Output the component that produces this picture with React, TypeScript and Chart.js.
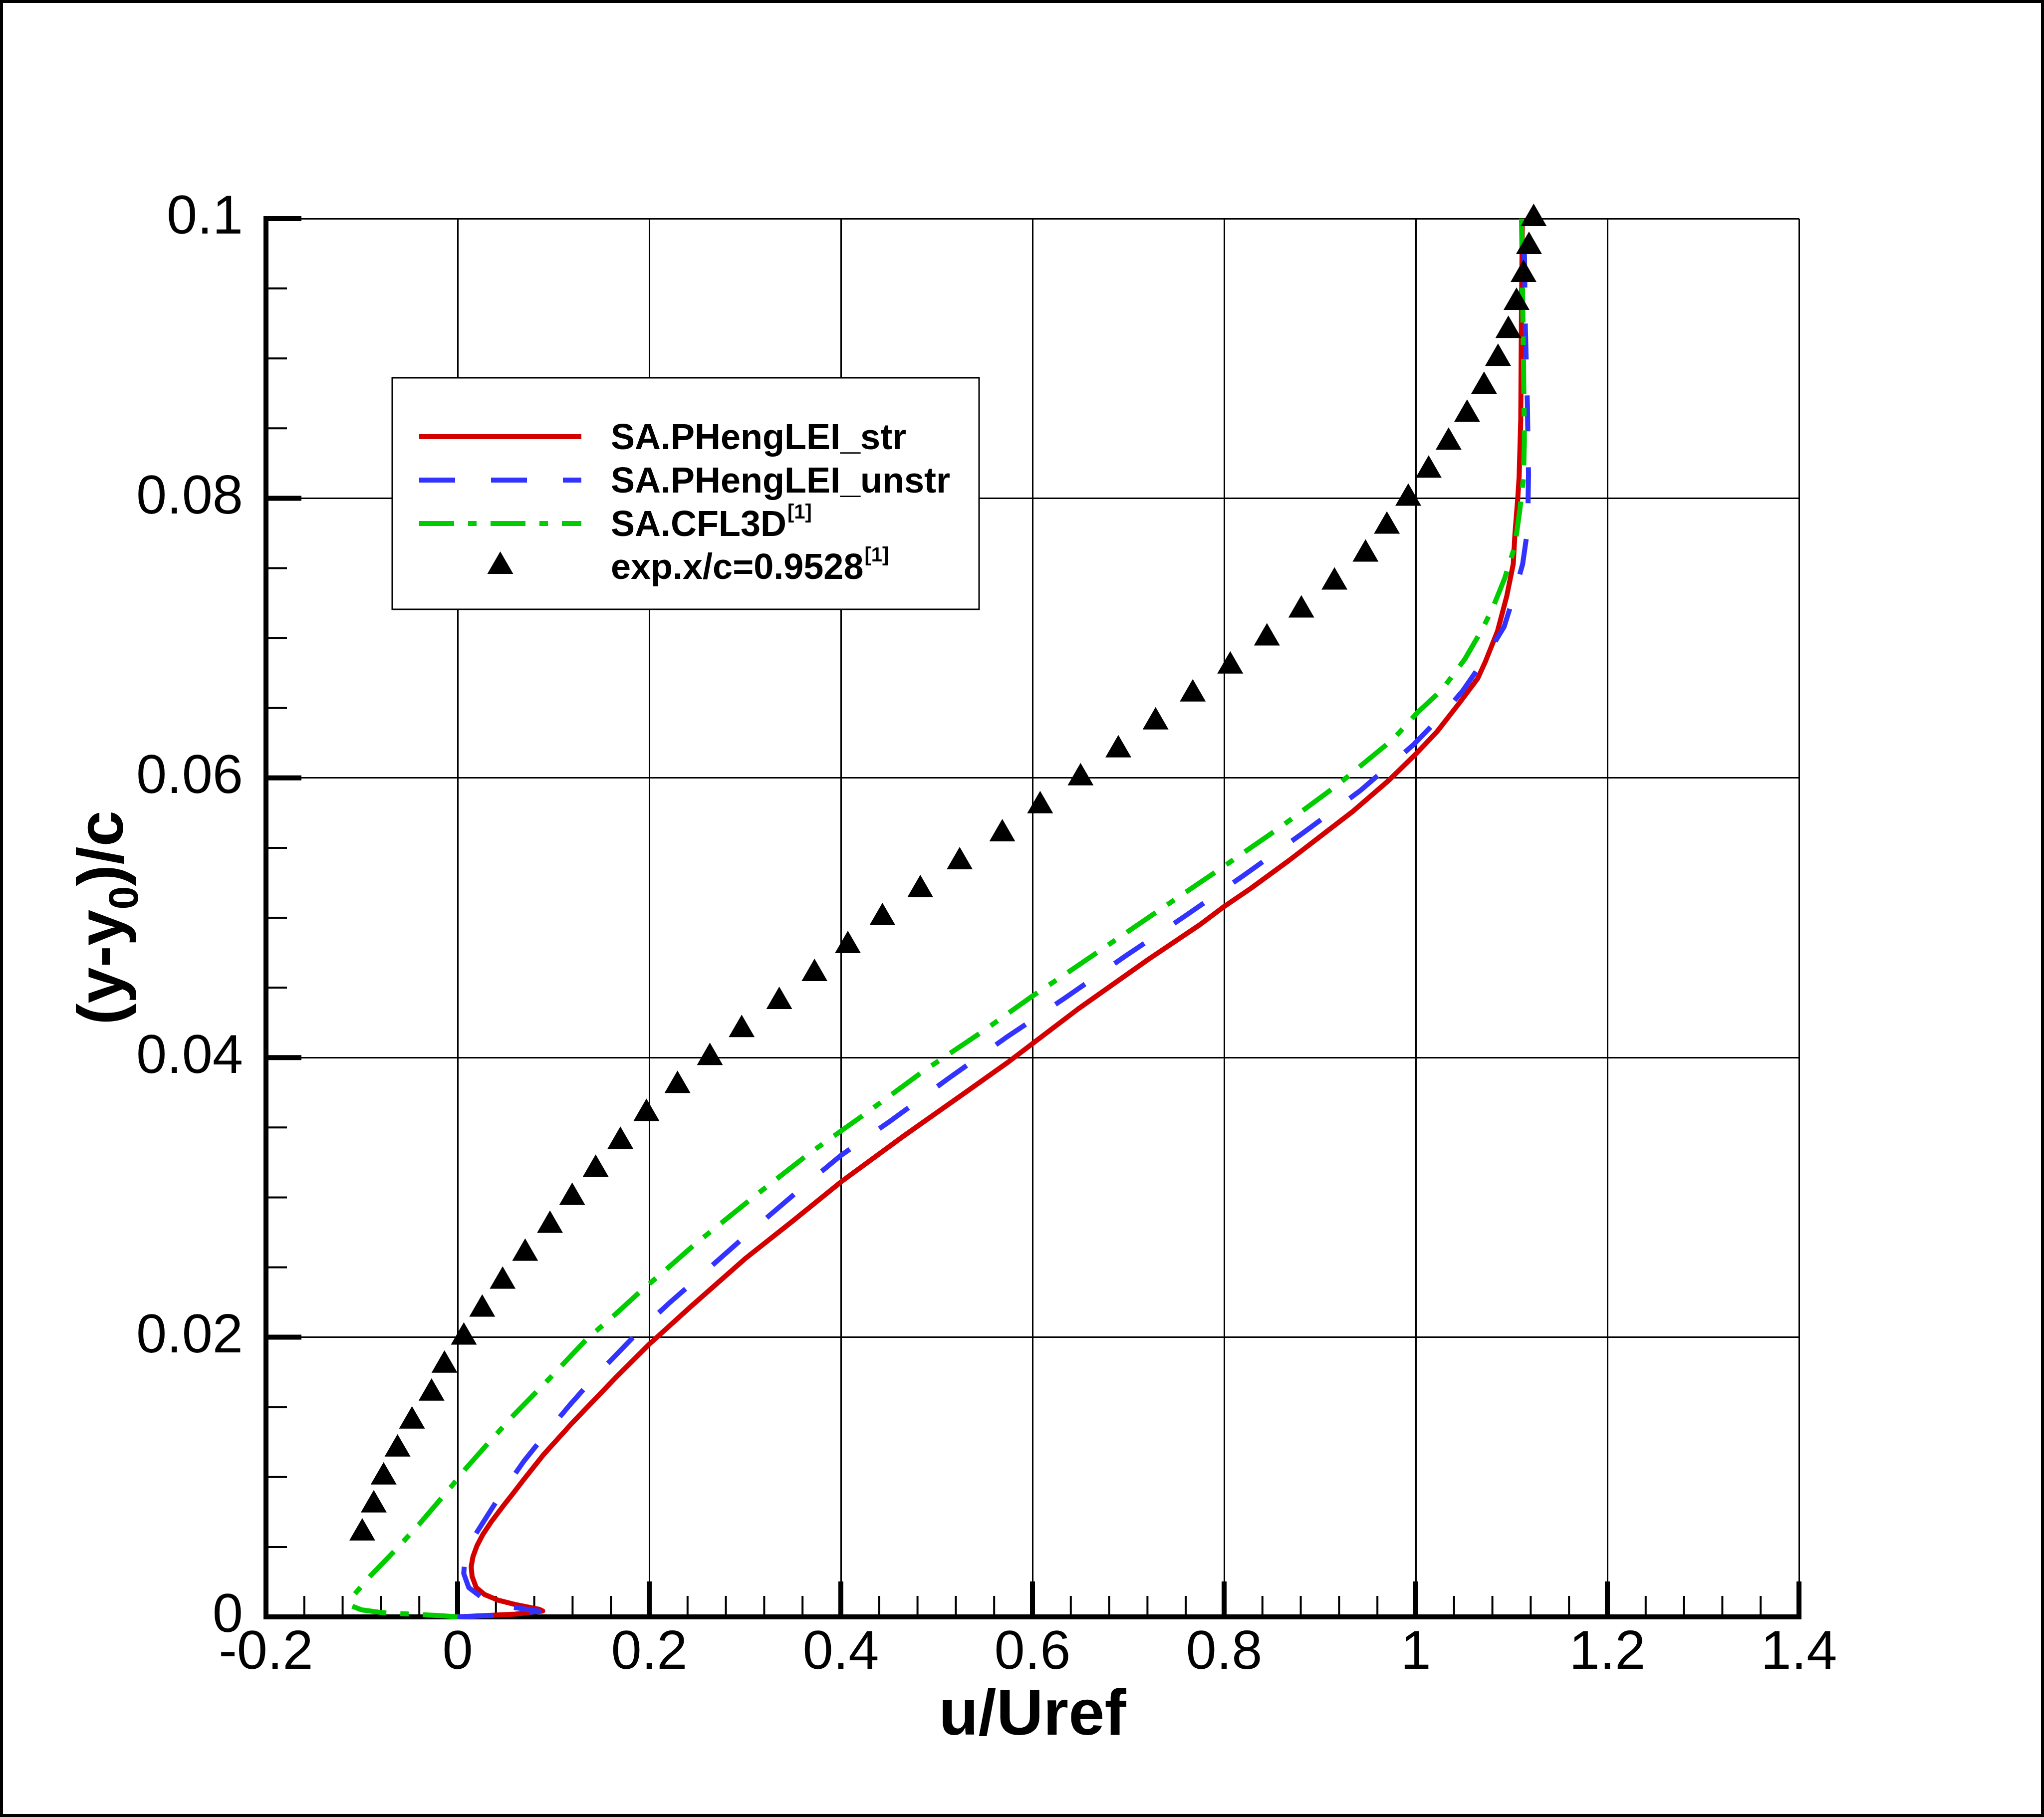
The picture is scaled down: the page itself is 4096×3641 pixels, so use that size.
import React, { useEffect, useRef } from 'react';
import { Chart, registerables } from 'chart.js';

Chart.register(...registerables);

// ---------------------------------------------------------------------------
// Velocity profiles u/Uref versus (y - y0)/c
// ---------------------------------------------------------------------------

// SA.PHengLEI_str (structured grid)
const STR_U = [0, 0.03, 0.06, 0.0889, 0.0854, 0.0594, 0.042, 0.0281, 0.0194, 0.0151, 0.0142, 0.016, 0.0203, 0.0264, 0.0351, 0.0472, 0.0576, 0.0688, 0.0897, 0.12, 0.1663, 0.2, 0.2435, 0.2998, 0.3496, 0.4, 0.4657, 0.532, 0.5751, 0.6, 0.6481, 0.7204, 0.7747, 0.8, 0.8279, 0.8678, 0.9077, 0.9343, 0.9715, 1.0, 1.0221, 1.046, 1.0646, 1.0726, 1.0854, 1.095, 1.1018, 1.1035, 1.1065, 1.1079, 1.1096, 1.1104, 1.1113];
const STR_Y = [0, 0.0001, 0.0002, 0.00042, 0.00054, 0.0009, 0.0012, 0.0016, 0.0021, 0.0029, 0.0036, 0.0043, 0.0051, 0.0059, 0.0068, 0.0079, 0.0088, 0.0098, 0.0116, 0.0139, 0.0172, 0.0195, 0.0222, 0.0256, 0.0283, 0.0311, 0.0344, 0.0376, 0.0397, 0.041, 0.0435, 0.047, 0.0495, 0.0508, 0.0521, 0.0541, 0.0562, 0.0576, 0.0598, 0.0617, 0.0633, 0.0654, 0.0671, 0.0683, 0.0705, 0.073, 0.0753, 0.0774, 0.08, 0.0815, 0.0856, 0.0938, 0.1];

// SA.PHengLEI_unstr (unstructured grid)
const UNSTR_U = [0, 0.04, 0.0854, 0.0472, 0.025, 0.0116, 0.0064, 0.0073, 0.009, 0.015, 0.027, 0.0455, 0.0688, 0.0897, 0.1164, 0.1396, 0.1663, 0.1919, 0.2202, 0.2468, 0.3031, 0.3595, 0.4, 0.4524, 0.5121, 0.5718, 0.6348, 0.6978, 0.7588, 0.8199, 0.8811, 0.9423, 0.9981, 1.0234, 1.0487, 1.07, 1.0922, 1.1018, 1.1116, 1.1168, 1.1177, 1.1165, 1.1144, 1.113];
const UNSTR_Y = [0, 0.0001, 0.0004, 0.0008, 0.0014, 0.0021, 0.0031, 0.004, 0.0044, 0.0055, 0.0068, 0.0088, 0.0111, 0.0129, 0.0151, 0.0169, 0.0188, 0.0206, 0.0224, 0.024, 0.0274, 0.0307, 0.033, 0.0355, 0.0385, 0.0414, 0.0443, 0.0473, 0.0501, 0.053, 0.056, 0.0591, 0.0624, 0.0642, 0.0662, 0.0683, 0.0708, 0.0729, 0.0753, 0.0778, 0.0817, 0.0868, 0.0922, 0.1];

// SA.CFL3D reference solution
const CFL3D_U = [0, -0.02, -0.05, -0.078, -0.1, -0.1112, -0.1078, -0.0915, -0.066, -0.0404, -0.0056, 0.0084, 0.0316, 0.0595, 0.0966, 0.1338, 0.164, 0.1896, 0.2202, 0.2468, 0.3065, 0.3662, 0.4259, 0.4856, 0.5486, 0.6, 0.6415, 0.6843, 0.7335, 0.796, 0.8572, 0.9184, 0.9769, 1.0021, 1.0274, 1.0513, 1.07, 1.0806, 1.093, 1.1035, 1.1087, 1.1125, 1.1134, 1.1125, 1.1104];
const CFL3D_Y = [0, 0.0001, 0.0002, 0.0003, 0.0005, 0.0008, 0.0016, 0.0029, 0.0047, 0.0066, 0.0094, 0.0106, 0.0124, 0.0145, 0.0171, 0.0198, 0.0216, 0.0232, 0.025, 0.0266, 0.0299, 0.0331, 0.036, 0.039, 0.0419, 0.0444, 0.0463, 0.0483, 0.0506, 0.0535, 0.0564, 0.0595, 0.0628, 0.0647, 0.0663, 0.0685, 0.0707, 0.0722, 0.0743, 0.0766, 0.0792, 0.0815, 0.0842, 0.0897, 0.1];

// Experiment, x/c = 0.9528
const EXP_U = [-0.0995, -0.0875, -0.0772, -0.0627, -0.0476, -0.0272, -0.0137, 0.0065, 0.0257, 0.047, 0.0705, 0.0964, 0.1196, 0.1441, 0.1699, 0.1971, 0.2295, 0.2633, 0.2965, 0.3357, 0.3725, 0.4073, 0.4434, 0.4829, 0.524, 0.5685, 0.608, 0.6502, 0.6896, 0.7285, 0.7673, 0.8064, 0.8447, 0.8806, 0.9152, 0.9476, 0.9699, 0.9922, 1.0135, 1.0343, 1.0536, 1.0713, 1.0859, 1.0967, 1.1052, 1.1125, 1.1182, 1.1231];
const EXP_Y = [0.006, 0.008, 0.01, 0.012, 0.014, 0.016, 0.018, 0.02, 0.022, 0.024, 0.026, 0.028, 0.03, 0.032, 0.034, 0.036, 0.038, 0.04, 0.042, 0.044, 0.046, 0.048, 0.05, 0.052, 0.054, 0.056, 0.058, 0.06, 0.062, 0.064, 0.066, 0.068, 0.07, 0.072, 0.074, 0.076, 0.078, 0.08, 0.082, 0.084, 0.086, 0.088, 0.09, 0.092, 0.094, 0.096, 0.098, 0.1];

const SERIES_NAMES = ['SA.PHengLEI_str', 'SA.PHengLEI_unstr', 'SA.CFL3D', 'exp.x/c=0.9528'];
const SERIES_REFS = ['', '', '[1]', '[1]'];

const X_TICKS = [-0.2, 0, 0.2, 0.4, 0.6, 0.8, 1, 1.2, 1.4];
const X_TICK_LABELS = ['-0.2', '0', '0.2', '0.4', '0.6', '0.8', '1', '1.2', '1.4'];
const Y_TICKS = [0, 0.02, 0.04, 0.06, 0.08, 0.1];
const Y_TICK_LABELS = ['0', '0.02', '0.04', '0.06', '0.08', '0.1'];
const X_MINOR_STEP = 0.04;
const Y_MINOR_STEP = 0.005;

const X_TITLE = 'u/Uref';
const Y_TITLE_PARTS = ['(y-y', '0', ')/c'];

// ---------------------------------------------------------------------------
// Canvas geometry and styling
// ---------------------------------------------------------------------------
const W = 4096;
const H = 3641;
const FONT = '"Liberation Sans", Arial, Helvetica, sans-serif';
const RED = '#d40000';
const BLUE = '#3333ff';
const GREEN = '#00cc00';
const DASH_BLUE = [72, 72];
const DASH_GREEN = [70, 28, 17, 28];
const LINE_W = 10;
const MARK_R = 30;

const zip = (xs: number[], ys: number[]) => xs.map((v, i) => ({ x: v, y: ys[i] }));

function strokeLine(ctx: CanvasRenderingContext2D, x0: number, y0: number, x1: number, y1: number) {
  ctx.beginPath();
  ctx.moveTo(x0, y0);
  ctx.lineTo(x1, y1);
  ctx.stroke();
}

function drawTriangle(ctx: CanvasRenderingContext2D, cx: number, cy: number, r: number) {
  ctx.beginPath();
  ctx.moveTo(cx, cy - r);
  ctx.lineTo(cx + 0.866 * r, cy + 0.5 * r);
  ctx.lineTo(cx - 0.866 * r, cy + 0.5 * r);
  ctx.closePath();
  ctx.fill();
}

// White page background
const backgroundPlugin = {
  id: 'pageBackground',
  beforeDraw(chart: any) {
    const { ctx } = chart;
    ctx.save();
    ctx.fillStyle = '#fff';
    ctx.fillRect(0, 0, chart.width, chart.height);
    ctx.restore();
  },
};

// Thick left/bottom axes with inward major and minor ticks
const axesPlugin = {
  id: 'inwardAxes',
  beforeDatasetsDraw(chart: any) {
    const { ctx } = chart;
    const xs = chart.scales.x;
    const ys = chart.scales.y;
    const left = xs.getPixelForValue(xs.min);
    const right = xs.getPixelForValue(xs.max);
    const bottom = ys.getPixelForValue(ys.min);
    const top = ys.getPixelForValue(ys.max);
    ctx.save();
    ctx.strokeStyle = '#000';
    ctx.lineCap = 'butt';

    ctx.lineWidth = 4;
    for (let v = xs.min; v <= xs.max + 1e-9; v += X_MINOR_STEP) {
      const px = xs.getPixelForValue(v);
      strokeLine(ctx, px, bottom, px, bottom - 42);
    }
    for (let v = ys.min; v <= ys.max + 1e-9; v += Y_MINOR_STEP) {
      const py = ys.getPixelForValue(v);
      strokeLine(ctx, left, py, left + 42, py);
    }

    ctx.lineWidth = 10;
    X_TICKS.forEach((v) => {
      const px = xs.getPixelForValue(v);
      strokeLine(ctx, px, bottom, px, bottom - 71);
    });
    Y_TICKS.forEach((v) => {
      const py = ys.getPixelForValue(v);
      strokeLine(ctx, left, py, left + 71, py);
    });

    strokeLine(ctx, left, top - 5, left, bottom + 5);
    strokeLine(ctx, left - 5, bottom, right + 5, bottom);
    ctx.restore();
  },
};

// Axis titles, legend and the outer frame
const decorPlugin = {
  id: 'decor',
  afterDraw(chart: any) {
    const { ctx, chartArea } = chart;
    ctx.save();
    ctx.fillStyle = '#000';

    // x title
    ctx.font = `bold 130px ${FONT}`;
    ctx.textAlign = 'center';
    ctx.textBaseline = 'alphabetic';
    ctx.fillText(X_TITLE, (chartArea.left + chartArea.right) / 2, 3476);

    // y title with subscript, reading bottom to top
    const big = `bold 130px ${FONT}`;
    const sub = `bold 84px ${FONT}`;
    ctx.font = big;
    const w0 = ctx.measureText(Y_TITLE_PARTS[0]).width;
    const w2 = ctx.measureText(Y_TITLE_PARTS[2]).width;
    ctx.font = sub;
    const w1 = ctx.measureText(Y_TITLE_PARTS[1]).width;
    const total = w0 + w1 + w2;
    ctx.translate(246, (chartArea.top + chartArea.bottom) / 2);
    ctx.rotate(-Math.PI / 2);
    ctx.textAlign = 'left';
    let u = -total / 2;
    ctx.font = big;
    ctx.fillText(Y_TITLE_PARTS[0], u, 0);
    u += w0;
    ctx.font = sub;
    ctx.fillText(Y_TITLE_PARTS[1], u, 30);
    u += w1;
    ctx.font = big;
    ctx.fillText(Y_TITLE_PARTS[2], u, 0);
    ctx.setTransform(1, 0, 0, 1, 0, 0);

    // legend box
    const bx0 = 786, by0 = 757, bx1 = 1962, by1 = 1221;
    ctx.fillStyle = '#fff';
    ctx.fillRect(bx0, by0, bx1 - bx0, by1 - by0);
    ctx.strokeStyle = '#000';
    ctx.lineWidth = 3;
    ctx.strokeRect(bx0, by0, bx1 - bx0, by1 - by0);

    const rows = [875, 962, 1049, 1135];
    const lineX0 = 840, lineX1 = 1165, textX = 1224;
    const legendDatasets = [3, 2, 1, 0].map((i) => chart.data.datasets[i]);
    legendDatasets.forEach((ds: any, k: number) => {
      const ry = rows[k];
      if (ds.showLine) {
        ctx.save();
        ctx.strokeStyle = ds.borderColor;
        ctx.lineWidth = ds.borderWidth;
        ctx.lineCap = 'butt';
        ctx.setLineDash(ds.borderDash || []);
        strokeLine(ctx, lineX0, ry, lineX1, ry);
        ctx.restore();
      } else {
        ctx.fillStyle = '#000';
        drawTriangle(ctx, (lineX0 + lineX1) / 2, ry, MARK_R);
      }
      ctx.fillStyle = '#000';
      ctx.textAlign = 'left';
      ctx.textBaseline = 'alphabetic';
      ctx.font = `bold 72px ${FONT}`;
      const name = SERIES_NAMES[k];
      ctx.fillText(name, textX, ry + 25);
      const ref = SERIES_REFS[k];
      if (ref) {
        const nw = ctx.measureText(name).width;
        ctx.font = `bold 40px ${FONT}`;
        ctx.fillText(ref, textX + nw + 2, ry + 25 - 35);
      }
    });

    // outer frame
    ctx.strokeStyle = '#000';
    ctx.lineWidth = 6;
    ctx.setLineDash([]);
    ctx.strokeRect(3, 3, W - 6, H - 6);
    ctx.restore();
  },
};

export default function App() {
  const canvasRef = useRef<HTMLCanvasElement | null>(null);

  useEffect(() => {
    document.body.style.margin = '0';
    const canvas = canvasRef.current;
    if (!canvas) return;

    const lineStyle = {
      showLine: true,
      borderWidth: LINE_W,
      borderJoinStyle: 'round',
      pointRadius: 0,
      pointHoverRadius: 0,
      tension: 0,
      clip: false,
    };

    const chart = new Chart(canvas, {
      type: 'scatter',
      data: {
        datasets: [
          {
            label: SERIES_NAMES[3],
            data: zip(EXP_U, EXP_Y),
            showLine: false,
            pointStyle: 'triangle',
            pointRadius: MARK_R,
            pointHoverRadius: MARK_R,
            backgroundColor: '#000',
            borderColor: '#000',
            borderWidth: 0,
            clip: false,
          },
          {
            ...lineStyle,
            label: SERIES_NAMES[2],
            data: zip(CFL3D_U, CFL3D_Y),
            borderColor: GREEN,
            backgroundColor: GREEN,
            borderDash: DASH_GREEN,
          },
          {
            ...lineStyle,
            label: SERIES_NAMES[1],
            data: zip(UNSTR_U, UNSTR_Y),
            borderColor: BLUE,
            backgroundColor: BLUE,
            borderDash: DASH_BLUE,
          },
          {
            ...lineStyle,
            label: SERIES_NAMES[0],
            data: zip(STR_U, STR_Y),
            borderColor: RED,
            backgroundColor: RED,
          },
        ],
      },
      options: {
        responsive: false,
        maintainAspectRatio: false,
        animation: false,
        devicePixelRatio: 1,
        events: [],
        layout: { padding: { left: 0, top: 438, right: 491, bottom: 0 } },
        plugins: { legend: { display: false }, tooltip: { enabled: false } },
        scales: {
          x: {
            type: 'linear',
            min: -0.2,
            max: 1.4,
            afterBuildTicks: (s: any) => {
              s.ticks = X_TICKS.map((v) => ({ value: v }));
            },
            afterFit: (s: any) => {
              s.height = 401;
            },
            grid: { color: '#000', lineWidth: 3, drawTicks: false },
            border: { display: false },
            ticks: {
              autoSkip: false,
              maxRotation: 0,
              minRotation: 0,
              padding: 8,
              color: '#000',
              font: { family: FONT, size: 110 },
              callback: (_v: any, i: number) => X_TICK_LABELS[i],
            },
          },
          y: {
            type: 'linear',
            min: 0,
            max: 0.1,
            afterBuildTicks: (s: any) => {
              s.ticks = Y_TICKS.map((v) => ({ value: v }));
            },
            afterFit: (s: any) => {
              s.width = 533;
            },
            grid: { color: '#000', lineWidth: 3, drawTicks: false },
            border: { display: false },
            ticks: {
              autoSkip: false,
              padding: 46,
              color: '#000',
              font: { family: FONT, size: 110 },
              callback: (_v: any, i: number) => Y_TICK_LABELS[i],
            },
          },
        },
      },
      plugins: [backgroundPlugin, axesPlugin, decorPlugin],
    } as any);

    return () => chart.destroy();
  }, []);

  return (
    <div style={{ position: 'absolute', left: 0, top: 0, width: W, height: H }}>
      <canvas ref={canvasRef} width={W} height={H} style={{ display: 'block', width: W, height: H }} />
    </div>
  );
}
